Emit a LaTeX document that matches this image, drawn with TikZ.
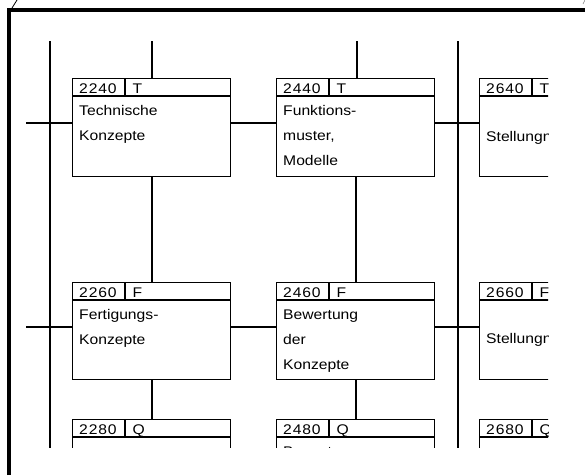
\documentclass[tikz,border=0pt]{standalone}
\usepackage{fontspec}
\setmainfont{Liberation Sans}[FakeStretch=1.12]
\newcommand\mybox[6]{% name, x, y, height, number, letter
  \node[boxst, minimum height=#4pt, anchor=north west] (#1) at (#2,#3) {};
  \draw[rule] ([yshift=-18pt]#1.north west) -- ([yshift=-18pt]#1.north east);
  \draw[rule] ([xshift=53pt]#1.north west) -- ([xshift=53pt,yshift=-18pt]#1.north west);
  \node[hdr, anchor=base west] (#1n) at ([xshift=7pt,yshift=-15pt]#1.north west) {#5};
  \node[hdr, anchor=base west] (#1l) at ([xshift=60.5pt,yshift=-15pt]#1.north west) {#6};
}
\newcommand\myline[4]{% name, box, offset from top, text
  \node[body, anchor=base west] (#1) at ([xshift=7pt,yshift=-#3pt]#2.north west) {#4};
}
\begin{document}
\begin{tikzpicture}[x=1pt,y=-1pt,
  boxst/.style={draw, line width=1.2pt, minimum width=158pt, inner sep=0pt, rectangle},
  hdr/.style={inner sep=0pt, font=\fontsize{14}{16}\selectfont\addfontfeatures{LetterSpace=6}},
  body/.style={inner sep=0pt, font=\fontsize{14}{16}\selectfont},
  conn/.style={line width=2pt},
  rule/.style={line width=1.2pt}]
\useasboundingbox (0,0) rectangle (585,475);
\draw[line width=4.5pt, line join=miter] (9,475) -- (9,10) -- (585,10);
\draw[line width=0.8pt] (12,8) -- (17,0);
\draw[line width=0.6pt, gray] (583,4) -- (585,0);
\begin{scope}
\clip (12,13) rectangle (548,447.5);
% boxes
\mybox{b2240}{72}{78}{98}{2240}{T}
\mybox{b2440}{276}{78}{98}{2440}{T}
\mybox{b2640}{479}{78}{98}{2640}{T}
\mybox{b2260}{72}{282}{97}{2260}{F}
\mybox{b2460}{276}{282}{97}{2460}{F}
\mybox{b2660}{479}{282}{97}{2660}{F}
\mybox{b2280}{72}{419}{98}{2280}{Q}
\mybox{b2480}{276}{419}{98}{2480}{Q}
\mybox{b2680}{479}{419}{98}{2680}{Q}
% texts
\myline{t2240a}{b2240}{37}{Technische}
\myline{t2240b}{b2240}{62}{Konzepte}
\myline{t2440a}{b2440}{37}{Funktions-}
\myline{t2440b}{b2440}{62}{muster,}
\myline{t2440c}{b2440}{87}{Modelle}
\myline{t2640a}{b2640}{63}{Stellungnahme}
\myline{t2260a}{b2260}{37}{Fertigungs-}
\myline{t2260b}{b2260}{62}{Konzepte}
\myline{t2460a}{b2460}{37}{Bewertung}
\myline{t2460b}{b2460}{62}{der}
\myline{t2460c}{b2460}{87}{Konzepte}
\myline{t2660a}{b2660}{61}{Stellungnahme}
\myline{t2480a}{b2480}{37}{Bewertung}
% coordinates
\coordinate (busA1) at (50,41);
\coordinate (busA2) at (50,470);
\coordinate (busB1) at (458,41);
\coordinate (busB2) at (458,470);
\coordinate (topA) at (152,41);
\coordinate (topB) at (357,41);
\coordinate (stub1) at (26,123);
\coordinate (stub2) at (26,327);
% buses
\draw[conn] (busA1) -- (busA2);
\draw[conn] (busB1) -- (busB2);
% vertical connectors
\draw[conn] (topA) -- (topA |- b2240.north);
\draw[conn] (topB) -- (topB |- b2440.north);
\draw[conn] (b2240.south) -- (b2260.north);
\draw[conn] (b2260.south) -- (b2280.north);
\draw[conn] (b2440.south) -- (b2460.north);
\draw[conn] (b2460.south) -- (b2480.north);
% horizontal connectors
\draw[conn] (stub1) -- (stub1 -| b2240.west);
\draw[conn] (stub1 -| b2240.east) -- (stub1 -| b2440.west);
\draw[conn] (stub1 -| b2440.east) -- (stub1 -| b2640.west);
\draw[conn] (stub2) -- (stub2 -| b2260.west);
\draw[conn] (stub2 -| b2260.east) -- (stub2 -| b2460.west);
\draw[conn] (stub2 -| b2460.east) -- (stub2 -| b2660.west);
\end{scope}
\end{tikzpicture}
\end{document}
